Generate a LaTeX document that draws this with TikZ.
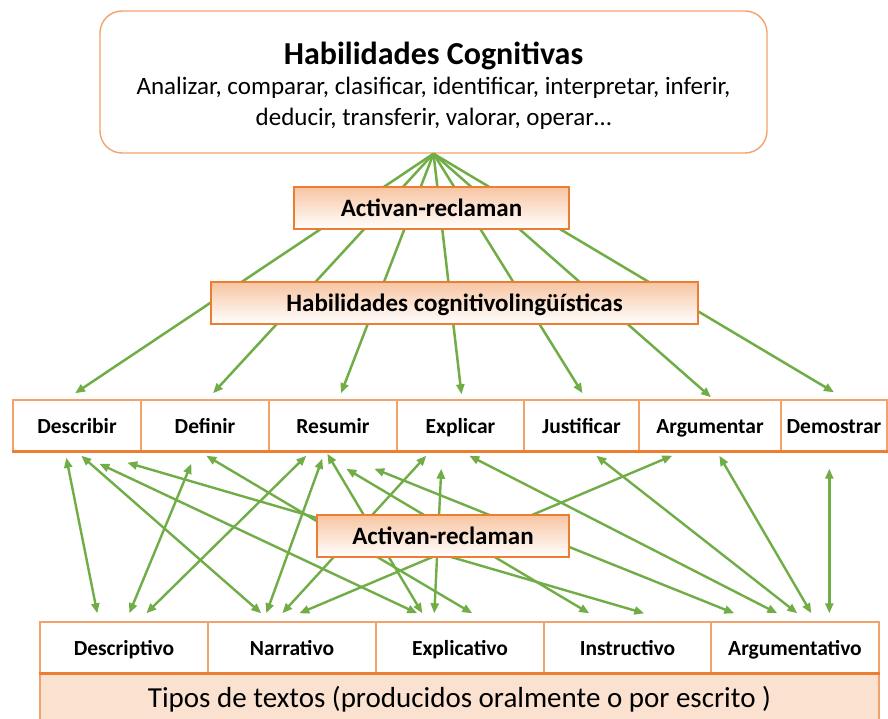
\documentclass[tikz,border=0pt]{standalone}
\usepackage{fontspec}
\setmainfont{Carlito}
\usetikzlibrary{arrows.meta,calc}

\definecolor{lnk}{HTML}{70AD47}
\definecolor{edge}{HTML}{F4A26C}
\definecolor{edgedark}{HTML}{ED7D31}
\definecolor{peach}{HTML}{F7C5A2}
\definecolor{band}{HTML}{FBE1CF}

\tikzset{
  tip/.tip={Triangle[length=10pt,width=8pt]},
  link/.style={draw=lnk, line width=2.5pt, -tip},
  twoway/.style={draw=lnk, line width=2.4pt, tip-tip},
  cell/.style={draw=edge, line width=1.4pt, fill=white, minimum height=51pt,
    inner sep=0pt, text height=18pt, text depth=2pt,
    font=\bfseries\fontsize{21.5}{24}\selectfont},
  bar/.style={draw=edgedark, line width=1.4pt, top color=peach, bottom color=white,
    inner sep=0pt, minimum height=42pt, text height=20pt, text depth=3pt,
    font=\bfseries\fontsize{25}{28}\selectfont},
}

\begin{document}
\begin{tikzpicture}[x=1pt,y=-1pt]
\useasboundingbox (0,0) rectangle (888,719);

% cognitive skills box
\node[draw=edge, line width=1.4pt, rounded corners=22pt, fill=white,
      minimum width=667pt, minimum height=142pt, inner sep=0pt] (cog) at (433.5,82) {};
\node[font=\bfseries\fontsize{32}{36}\selectfont, inner sep=0pt] (cogtitle) at (433.5,56) {Habilidades Cognitivas};
\node[font=\fontsize{25}{31}\selectfont, align=center, inner sep=0pt] (coglist) at (433.5,103.5)
  {Analizar, comparar, clasificar, identificar, interpretar, inferir,\\deducir, transferir, valorar, operar\ldots};

% cognitive-linguistic skills
\node[cell, minimum width=128pt] (describir)  at (77,425.5)    {Describir};
\node[cell, minimum width=128pt] (definir)    at (205,425.5)   {Definir};
\node[cell, minimum width=128pt] (resumir)    at (333,425.5)   {Resumir};
\node[cell, minimum width=127pt] (explicar)   at (460.5,425.5) {Explicar};
\node[cell, minimum width=115pt] (justificar) at (581.5,425.5) {Justificar};
\node[cell, minimum width=142pt] (argumentar) at (710,425.5)   {Argumentar};
\node[cell, minimum width=106pt] (demostrar)  at (834,425.5)   {Demostrar};
\draw[edgedark, line width=3pt] (describir.south west) -- (demostrar.south east);

% text types
\node[cell, minimum width=168pt] (descriptivo)   at (124,647.5)   {Descriptivo};
\node[cell, minimum width=168pt] (narrativo)     at (292,647.5)   {Narrativo};
\node[cell, minimum width=168pt] (explicativo)   at (460,647.5)   {Explicativo};
\node[cell, minimum width=167pt] (instructivo)   at (627.5,647.5) {Instructivo};
\node[cell, minimum width=168pt] (argumentativo) at (795,647.5)   {Argumentativo};
\node[draw=edge, line width=1.4pt, fill=band, minimum width=839pt, minimum height=46pt,
      inner sep=0pt, text height=24pt, text depth=3pt,
      font=\fontsize{29}{32}\selectfont] (tipos) at (459.5,697)
  {Tipos de textos (producidos oralmente o por escrito )};
\draw[edgedark, line width=3pt] (descriptivo.south west) -- (argumentativo.south east);

% fan from the cognitive skills down to each skill
\draw[link] (cog.south) -- ($(describir.north)+(-2,-6)$);
\draw[link] (cog.south) -- ($(definir.north)+(8,-6)$);
\draw[link] (cog.south) -- ($(resumir.north)+(8,-6)$);
\draw[link] (cog.south) -- ($(explicar.north)+(1,-5)$);
\draw[link] (cog.south) -- ($(justificar.north)+(1,-6)$);
\draw[link] (cog.south) -- ($(argumentar.north)+(1,-2)$);
\draw[link] (cog.south) -- ($(demostrar.north)+(0,-7)$);

\node[bar, minimum width=275pt] (act1) at (431.5,208) {Activan-reclaman};
\node[bar, minimum width=487pt] (hcl)  at (454.5,303) {Habilidades cognitivolingüísticas};

% links between skills and text types
\draw[twoway] ($(describir.south west)+(54,6)$)   -- ($(descriptivo.north west)+(58,-8)$);
\draw[twoway] ($(describir.south west)+(69,4)$)   -- ($(narrativo.north west)+(54,-8)$);
\draw[twoway] ($(describir.south west)+(87,12)$)  -- ($(explicativo.north west)+(42,-8)$);
\draw[twoway] ($(describir.south west)+(115,11)$) -- ($(instructivo.north west)+(101,-8)$);
\draw[twoway] ($(definir.south west)+(51,12)$)    -- ($(descriptivo.north west)+(90,-8)$);
\draw[twoway] ($(definir.south west)+(66,4)$)     -- ($(explicativo.north west)+(97,-8)$);
\draw[twoway] ($(resumir.south west)+(38,4)$)     -- ($(descriptivo.north west)+(107,-8)$);
\draw[twoway] ($(resumir.south west)+(54,7)$)     -- ($(narrativo.north west)+(59,-8)$);
\draw[twoway] ($(resumir.south west)+(59,2)$)     -- ($(explicativo.north west)+(47,-8)$);
\draw[twoway] ($(resumir.south west)+(78,17)$)    -- ($(instructivo.north west)+(46,-8)$);
\draw[twoway] ($(resumir.south west)+(106,17)$)   -- ($(argumentativo.north west)+(24,-8)$);
\draw[twoway] ($(explicar.south west)+(30,4)$)    -- ($(narrativo.north west)+(75,-8)$);
\draw[twoway] ($(explicar.south west)+(45,17)$)   -- ($(explicativo.north west)+(59,-8)$);
\draw[twoway] ($(explicar.south west)+(73,4)$)    -- ($(argumentativo.north west)+(67,-8)$);
\draw[twoway] ($(justificar.south west)+(73,4)$)  -- ($(argumentativo.north west)+(87,-8)$);
\draw[twoway] ($(argumentar.south west)+(34,4)$)  -- ($(narrativo.north west)+(92,-8)$);
\draw[twoway] ($(argumentar.south west)+(81,4)$)  -- ($(argumentativo.north west)+(101,-8)$);
\draw[twoway] ($(demostrar.south west)+(49,17)$)  -- ($(argumentativo.north west)+(119,-8)$);

\node[bar, minimum width=252pt] (act2) at (443,536) {Activan-reclaman};
\end{tikzpicture}
\end{document}
